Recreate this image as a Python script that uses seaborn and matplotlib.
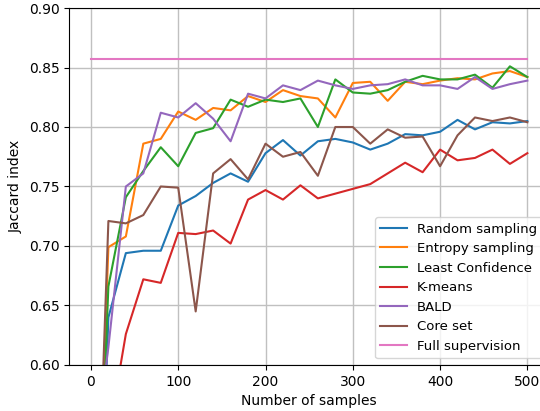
import matplotlib
matplotlib.use("Agg")
import matplotlib.pyplot as plt
import seaborn as sns

# Number of labelled samples (x axis)
samples = [0, 20, 40, 60, 80, 100, 120, 140, 160, 180, 200, 220, 240,
           260, 280, 300, 320, 340, 360, 380, 400, 420, 440, 460, 480, 500]

random_sampling = [0.24, 0.640, 0.694, 0.696, 0.696, 0.734, 0.742, 0.753, 0.761, 0.754, 0.778, 0.789, 0.776,
                   0.788, 0.790, 0.787, 0.781, 0.786, 0.794, 0.793, 0.796, 0.806, 0.798, 0.804, 0.803, 0.805]
entropy_sampling = [0.30, 0.699, 0.708, 0.786, 0.790, 0.813, 0.806, 0.816, 0.814, 0.826, 0.821, 0.831, 0.826,
                    0.824, 0.808, 0.837, 0.838, 0.822, 0.838, 0.836, 0.839, 0.841, 0.840, 0.845, 0.847, 0.842]
least_confidence = [0.30, 0.666, 0.741, 0.763, 0.783, 0.767, 0.795, 0.799, 0.823, 0.817, 0.823, 0.821, 0.824,
                    0.800, 0.840, 0.829, 0.828, 0.831, 0.838, 0.843, 0.840, 0.840, 0.844, 0.833, 0.851, 0.842]
kmeans = [0.25, 0.540, 0.626, 0.672, 0.669, 0.711, 0.710, 0.713, 0.702, 0.739, 0.747, 0.739, 0.751,
          0.740, 0.744, 0.748, 0.752, 0.761, 0.770, 0.762, 0.781, 0.772, 0.774, 0.781, 0.769, 0.778]
bald = [0.50, 0.615, 0.750, 0.761, 0.812, 0.808, 0.820, 0.807, 0.788, 0.828, 0.824, 0.835, 0.831,
        0.839, 0.835, 0.832, 0.835, 0.836, 0.840, 0.835, 0.835, 0.832, 0.842, 0.832, 0.836, 0.839]
core_set = [0.30, 0.721, 0.719, 0.726, 0.750, 0.749, 0.645, 0.761, 0.773, 0.756, 0.786, 0.775, 0.779,
            0.759, 0.800, 0.800, 0.786, 0.798, 0.791, 0.792, 0.767, 0.793, 0.808, 0.805, 0.808, 0.804]
full_supervision = [0.857] * len(samples)

series = [
    ("Random sampling", random_sampling),
    ("Entropy sampling", entropy_sampling),
    ("Least Confidence", least_confidence),
    ("K-means", kmeans),
    ("BALD", bald),
    ("Core set", core_set),
    ("Full supervision", full_supervision),
]
colors = sns.color_palette("tab10", len(series))

fig = plt.figure(figsize=(5.4, 4.11), dpi=100)
# axes runs past the right edge of the figure, as in the reference
ax = fig.add_axes([0.128, 0.112, 0.889, 0.8685])

for (name, vals), c in zip(series, colors):
    sns.lineplot(x=samples, y=vals, label=name, color=c, linewidth=1.5, ax=ax)

ax.set_xlim(-25, 525)
ax.set_ylim(0.60, 0.90)
ax.set_xticks([0, 100, 200, 300, 400, 500])
ax.set_yticks([0.60, 0.65, 0.70, 0.75, 0.80, 0.85, 0.90])
ax.yaxis.set_major_formatter(matplotlib.ticker.FormatStrFormatter('%.2f'))
ax.grid(True, color='#c0c0c0', linewidth=1.0)
ax.set_axisbelow(True)
ax.set_xlabel('Number of samples')
ax.set_ylabel('Jaccard index')
ax.legend(loc='lower right', fontsize=9.5)

fig.savefig('out.png', dpi=100)
